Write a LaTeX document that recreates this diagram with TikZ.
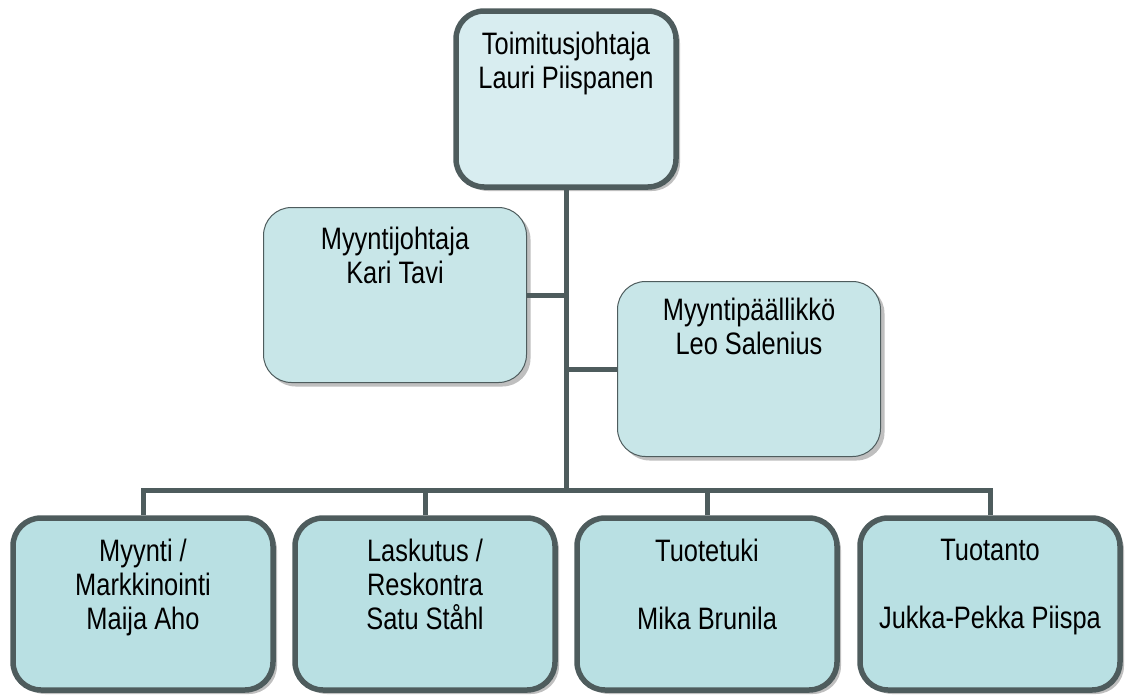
\documentclass[tikz,border=0pt]{standalone}
\usepackage{fontspec}
\setmainfont{Liberation Sans}[FakeStretch=0.82]
\usetikzlibrary{positioning,shadows}
\definecolor{edgegrey}{HTML}{4E5C5D}
\definecolor{topfill}{HTML}{D8EDF0}
\definecolor{midfill}{HTML}{C8E6E8}
\definecolor{lowfill}{HTML}{B9E0E3}

\begin{document}
\begin{tikzpicture}[x=1pt, y=-1pt, node distance=24pt]
\tikzstyle{box} = [draw=edgegrey, rounded corners=28pt, drop shadow={shadow xshift=4pt, shadow yshift=-4pt, fill=black!25, opacity=1}]
\tikzstyle{head} = [box, fill=topfill, line width=5.5pt, minimum width=220pt, minimum height=176pt]
\tikzstyle{staff} = [box, fill=midfill, line width=1pt, minimum width=263pt, minimum height=175pt]
\tikzstyle{unit} = [box, fill=lowfill, line width=5.5pt, minimum width=260pt, minimum height=172pt]
\tikzstyle{txt} = [inner sep=0pt, align=center, font=\fontsize{31}{34}\selectfont]
\tikzstyle{link} = [draw=edgegrey, line width=5pt]

\useasboundingbox (0,0) rectangle (1130,699);

    % boxes first, texts hang from the top edge
    \node [head] (ceo) at (566,99) {};
    \node [staff] (sales) at (395,295) {};
    \node [staff] (salesmgr) at (749,369) {};
    \node [unit] (marketing) at (143,604) {};
    \node [unit] (billing) at (425,604) {};
    \node [unit] (support) at (707,604) {};
    \node [unit] (production) at (990,604) {};
    \coordinate (bus) at (566,490);

    \node [txt, below=24pt of ceo.north] (ceotxt) {Toimitusjohtaja\\Lauri Piispanen};
    \node [txt, below=20pt of sales.north] (salestxt) {Myyntijohtaja\\Kari Tavi};
    \node [txt, below=17pt of salesmgr.north] (salesmgrtxt) {Myyntipäällikkö\\Leo Salenius};
    \node [txt, below=24pt of marketing.north] (marketingtxt) {Myynti /\\Markkinointi\\Maija Aho};
    \node [txt, below=24pt of billing.north] (billingtxt) {Laskutus /\\Reskontra\\Satu Ståhl};
    \node [txt, below=24pt of support.north] (supporttxt) {Tuotetuki\\ \\Mika Brunila};
    \node [txt, below=24pt of production.north] (productiontxt) {Tuotanto\\ \\Jukka-Pekka Piispa};

    % connectors
    \draw [link] (ceo.south) -- (bus);
    \draw [link] (sales.east) -- (sales.east -| bus);
    \draw [link] (salesmgr.west) -- (salesmgr.west -| bus);
    \draw [link] (marketing.north) |- (bus) -| (production.north);
    \draw [link] (billing.north) -- (billing.north |- bus);
    \draw [link] (support.north) -- (support.north |- bus);

\end{tikzpicture}
\end{document}
